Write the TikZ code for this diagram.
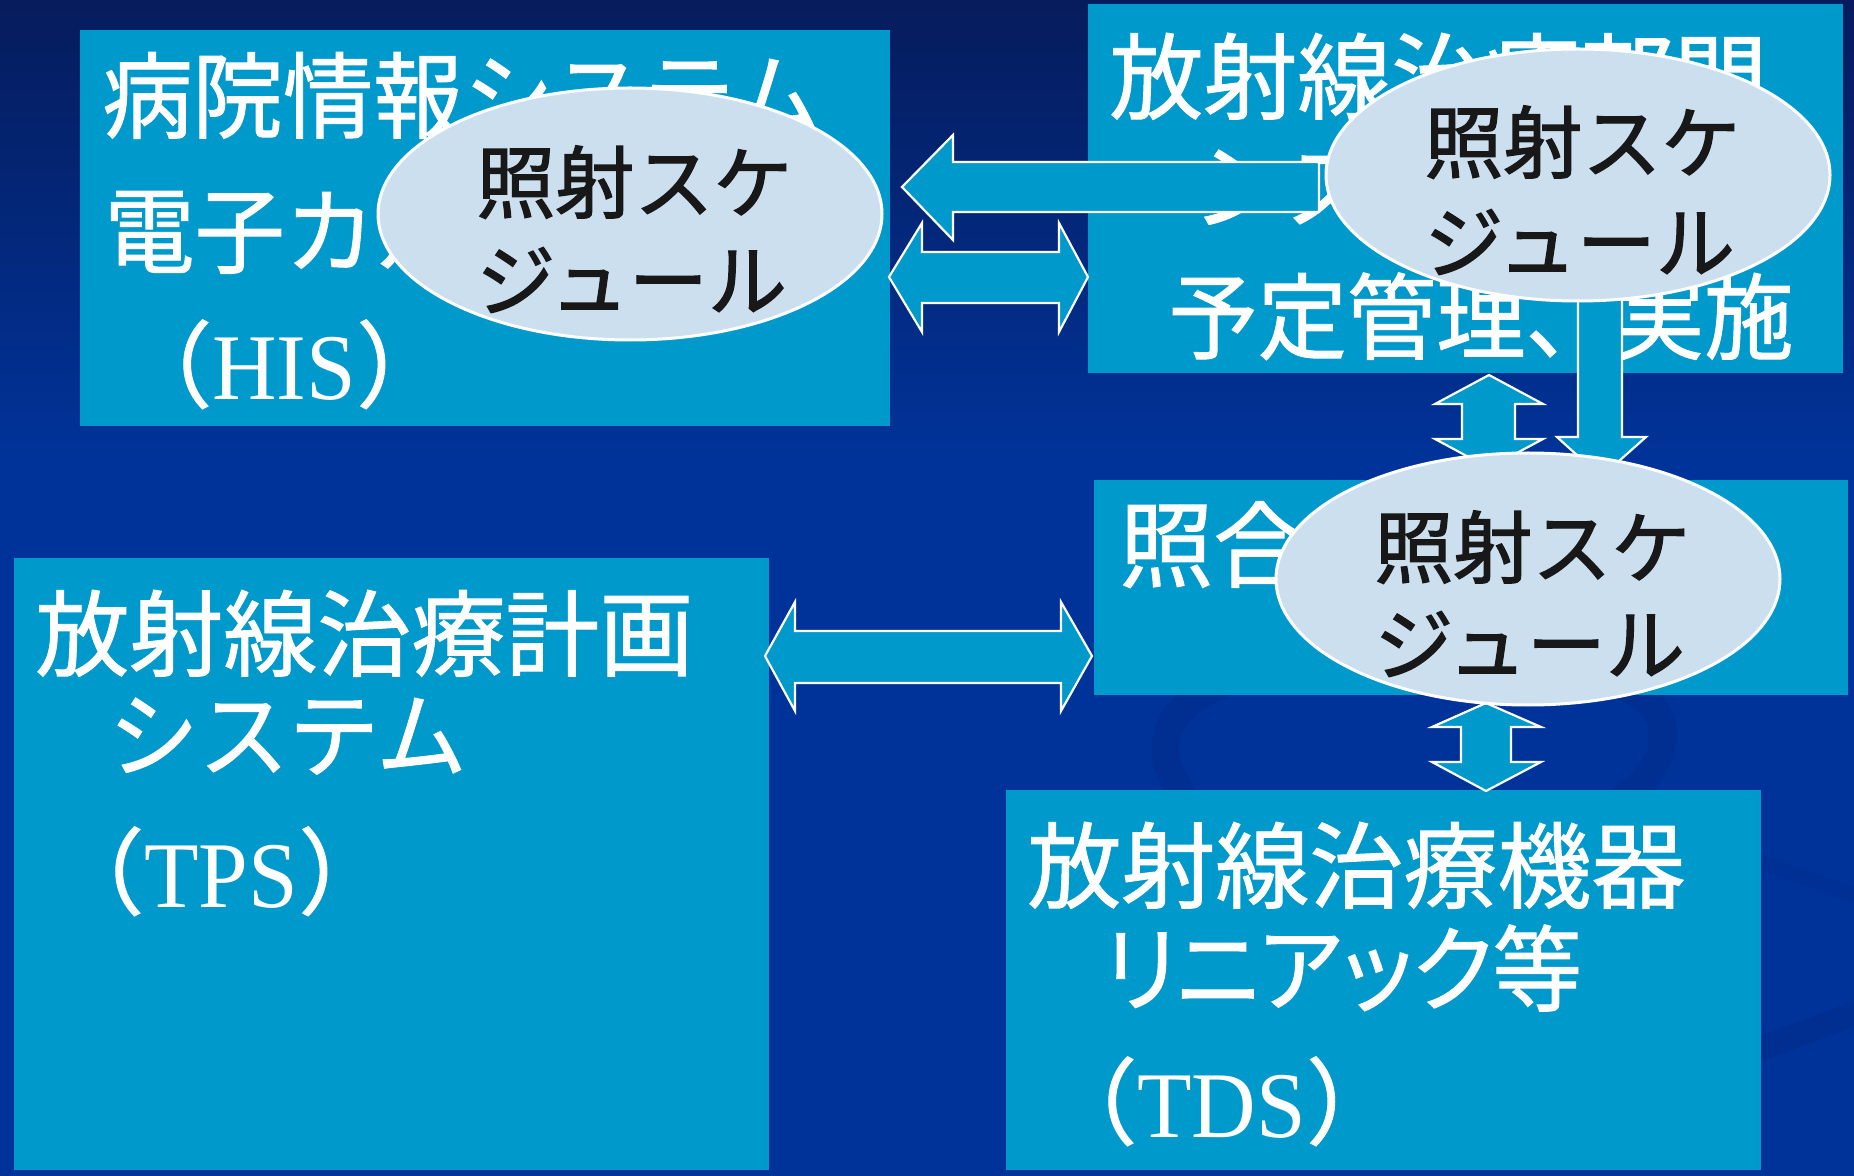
\documentclass[tikz,border=0pt]{standalone}
\usepackage{fontspec}
\setmainfont{Liberation Serif}
\newfontfamily\lat[FakeStretch=0.95]{Liberation Serif}
\newfontfamily\jp[FakeBold=1.0]{Noto Sans CJK JP}
\newfontfamily\jpn[FakeBold=1.0,FakeStretch=0.96]{Noto Sans CJK JP}
\newfontfamily\jpc[FakeBold=1.0,FakeStretch=0.95]{Noto Sans CJK JP}
\newfontfamily\jpp[FakeBold=1.0,FakeStretch=0.95,RawFeature=+palt]{Noto Sans CJK JP}
\newfontfamily\jpk[FakeBold=1.6]{Noto Sans CJK JP}
\usetikzlibrary{shapes.geometric}
\definecolor{bgtop}{RGB}{6,28,92}
\definecolor{bgmain}{RGB}{0,51,153}
\definecolor{swirl}{RGB}{0,44,140}
\definecolor{boxc}{RGB}{0,153,204}
\definecolor{ellc}{RGB}{204,223,238}
\definecolor{inkc}{RGB}{24,24,24}
\tikzset{
  panel/.style={fill=boxc, draw=none, inner sep=0pt, outer sep=0pt, anchor=north west},
  sched/.style={ellipse, fill=ellc, draw=white, line width=1.5pt, minimum width=252pt, minimum height=126pt, inner sep=0pt},
  paneltext/.style={text=white, inner sep=0pt, anchor=base west, font=\jp\fontsize{47}{47}\selectfont},
  histext/.style={paneltext, font=\jpn\fontsize{47}{47}\selectfont},
  condtext/.style={paneltext, font=\jpc\fontsize{47}{47}\selectfont},
  proptext/.style={paneltext, font=\jpp\fontsize{47}{47}\selectfont},
  schedtext/.style={text=inkc, inner sep=0pt, anchor=base west, font=\jpk\fontsize{39.5}{39.5}\selectfont},
  blockarrow/.style={fill=boxc, draw=white, line width=1.1pt, line join=miter},
  swirlband/.style={swirl, opacity=0.6, line cap=round},
}
\begin{document}
\begin{tikzpicture}[x=0.5pt,y=-0.5pt]
\useasboundingbox (0,0) rectangle (1854,1176);
% background
\fill[bgmain] (0,0) rectangle (1854,1176);
\shade[top color=bgtop, bottom color=bgmain] (0,0) rectangle (1854,460);
\draw[swirlband, line width=14pt] (1180,790) .. controls (1120,700) and (1250,650) .. (1420,660);
\draw[swirlband, line width=14pt] (1600,680) .. controls (1700,700) and (1660,780) .. (1620,800);
\draw[swirlband, line width=8pt, opacity=0.35] (1761,862) .. controls (1800,875) and (1830,888) .. (1870,900);
\draw[swirlband, line width=12pt] (1761,1048) .. controls (1800,1035) and (1830,1022) .. (1870,1008);

% panels
\node[panel, minimum width=405pt, minimum height=198pt] (his) at (80,30) {};
\node[panel, minimum width=377.5pt, minimum height=184.5pt] (dept) at (1088,4) {};
\node[panel, minimum width=377pt, minimum height=107.5pt] (rv) at (1094,480) {};
\node[panel, minimum width=377.5pt, minimum height=306pt] (tps) at (14,558) {};
\node[panel, minimum width=377.5pt, minimum height=190pt] (tds) at (1006,790) {};

% panel texts
\node[histext] (his1) at (102,131) {病院情報システム};
\node[histext] (his2) at (104,266) {電子カルテ};
\node[paneltext] (his3) at (118,400) {（\lat HIS\jp）};

\node[paneltext] (dept1) at (1109,112) {放射線治療部門};
\node[paneltext] (dept2) at (1190,222) {システム};
\node[condtext] (dept3) at (1168,352) {予定管理、実施};

\node[paneltext] (rv1) at (1119,580) {照合};

\node[paneltext] (tps1) at (35,669) {放射線治療計画};
\node[histext] (tps2) at (108,770) {システム};
\node[paneltext] (tps3) at (50,907) {（\lat TPS\jp）};

\node[paneltext] (tds1) at (1027,901) {放射線治療機器};
\node[proptext] (tds2) at (1103,1004) {リニアック等};
\node[paneltext] (tds3) at (1043,1137) {（\lat TDS\jp）};

% block arrows
\draw[blockarrow] (902,187) -- (953,135) -- (953,162) -- (1319,162) -- (1319,212) -- (953,212) -- (953,240) -- cycle;
\draw[blockarrow] (889,277) -- (922,223) -- (922,252) -- (1059,252) -- (1059,223) -- (1088,277) -- (1059,332) -- (1059,303) -- (922,303) -- (922,332) -- cycle;
\draw[blockarrow] (1489,375) -- (1543,404) -- (1515,404) -- (1515,439) -- (1543,439) -- (1489,468) -- (1435,439) -- (1462,439) -- (1462,404) -- (1435,404) -- cycle;
\draw[blockarrow] (1578,280) -- (1622,280) -- (1622,437) -- (1646,437) -- (1601,477) -- (1557,437) -- (1578,437) -- cycle;
\draw[blockarrow] (765,656) -- (795,602) -- (795,631) -- (1061,631) -- (1061,602) -- (1092,656) -- (1061,711) -- (1061,683) -- (795,683) -- (795,711) -- cycle;
\draw[blockarrow] (1486,703) -- (1541,727) -- (1511,727) -- (1511,762) -- (1541,762) -- (1486,791) -- (1432,762) -- (1461,762) -- (1461,727) -- (1432,727) -- cycle;

% schedule ellipses
\node[sched] (e1) at (630,214) {};
\node[sched] (e2) at (1578,175) {};
\node[sched] (e3) at (1528,579) {};
\node[schedtext] (e1a) at (476,212) {照射スケ};
\node[schedtext] (e1b) at (476,310) {ジュール};
\node[schedtext] (e2a) at (1424,172) {照射スケ};
\node[schedtext] (e2b) at (1424,272) {ジュール};
\node[schedtext] (e3a) at (1374,577) {照射スケ};
\node[schedtext] (e3b) at (1374,674) {ジュール};
\end{tikzpicture}
\end{document}
